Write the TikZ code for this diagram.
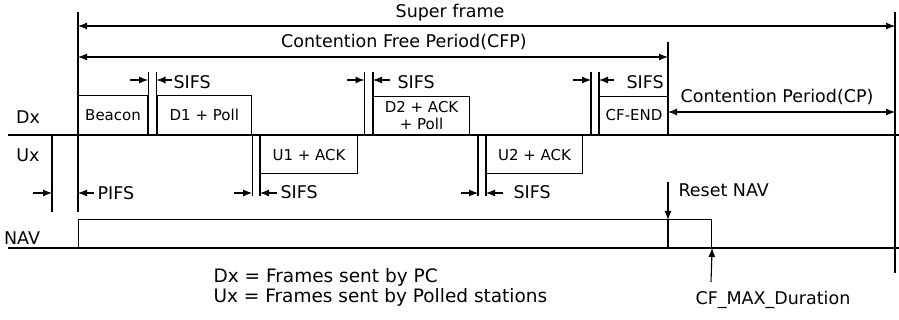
\documentclass[tikz,border=0pt]{standalone}
\usepackage{fontspec}
\setmainfont{DejaVu Sans}
\usepackage{tikz}
\usetikzlibrary{arrows.meta}
\tikzstyle{frame} = [rectangle, sharp corners, draw, inner sep=0pt,
                     anchor=south west, text centered,
                     font=\fontsize{15}{17}\selectfont]
\tikzstyle{lbl} = [inner sep=0pt, font=\fontsize{17.5}{21}\selectfont]
\tikzstyle{legend} = [inner sep=0pt, anchor=west, font=\fontsize{18.5}{22}\selectfont]
\tikzstyle{gaparrow} = [-{Latex[length=9pt,width=7pt]}]
\tikzstyle{spanarrow} = [{Latex[length=9pt,width=7pt]}-{Latex[length=9pt,width=7pt]}]

\begin{document}
\begin{tikzpicture}[x=1pt, y=-1pt, line width=1.1pt]
\useasboundingbox (0,0) rectangle (899,320);

% Time lines
\draw (8,135) -- (899,135);
\draw (8,248) -- (899,248);
\node[lbl] (dx) at (28,117) {Dx};
\node[lbl] (ux) at (28,155) {Ux};
\node[lbl] (navlbl) at (22,238) {NAV};

% Super frame / CFP / CP
\draw (78,12) -- (78,212);
\draw (895,12) -- (895,273);
\draw (668,42) -- (668,135);
\draw[spanarrow] (78,26) -- (895,26);
\node[lbl] (super) at (450,13) {Super frame};
\draw[spanarrow] (78,57) -- (668,57);
\node[lbl] (cfp) at (404,42) {Contention Free Period(CFP)};
\draw[spanarrow] (668,112) -- (895,112);
\node[lbl] (cp) at (777,97) {Contention Period(CP)};

% PIFS
\draw (52,135) -- (52,212);
\draw[gaparrow] (33,193) -- (52,193);
\draw[gaparrow] (94,193) -- (78,193);
\node[lbl, anchor=west] (pifs) at (97,193) {PIFS};

% Beacon
\node[frame, minimum width=69, minimum height=39] (beacon) at (78,135) {Beacon};
\draw (beacon.south east) -- ++(0,-63);

% D1 + Poll
\node[frame, minimum width=94.5, minimum height=39] (d1) at (156.5,135) {D1 + Poll};
\draw (d1.south west) -- ++(0,-63);
\draw[gaparrow] (130,80) -- (beacon.south east |- 0,80);
\draw[gaparrow] (172,80) -- (d1.south west |- 0,80);
\node[lbl, anchor=west] (sifs1) at (173,82) {SIFS};

% U1 + ACK
\node[frame, anchor=north west, minimum width=97, minimum height=38] (u1) at (260,135) {U1 + ACK};
\draw (d1.south east) -- ++(0,61);
\draw (u1.north west) -- ++(0,61);
\draw[gaparrow] (234,193) -- (d1.south east |- 0,193);
\draw[gaparrow] (277,193) -- (u1.north west |- 0,193);
\node[lbl, anchor=west] (sifs2) at (280,192) {SIFS};

% D2 + ACK + Poll
\coordinate (s3) at (364.5,135);
\node[frame, minimum width=96, minimum height=38, align=center] (d2) at (373,135) {D2 + ACK\\+ Poll};
\draw (s3) -- ++(0,-63);
\draw (d2.south west) -- ++(0,-63);
\draw[gaparrow] (347,80) -- (s3 |- 0,80);
\draw[gaparrow] (390,80) -- (d2.south west |- 0,80);
\node[lbl, anchor=west] (sifs3) at (397,82) {SIFS};

% U2 + ACK
\coordinate (s4) at (478,135);
\node[frame, anchor=north west, minimum width=96, minimum height=38] (u2) at (486,135) {U2 + ACK};
\draw (s4) -- ++(0,61);
\draw (u2.north west) -- ++(0,61);
\draw[gaparrow] (461,193) -- (s4 |- 0,193);
\draw[gaparrow] (503,193) -- (u2.north west |- 0,193);
\node[lbl, anchor=west] (sifs4) at (513,192) {SIFS};

% CF-END
\coordinate (s5) at (591,135);
\node[frame, minimum width=69, minimum height=38] (cfend) at (599,135) {CF-END};
\draw (s5) -- ++(0,-63);
\draw (cfend.south west) -- ++(0,-63);
\draw[gaparrow] (573,80) -- (s5 |- 0,80);
\draw[gaparrow] (614,80) -- (cfend.south west |- 0,80);
\node[lbl, anchor=west] (sifs5) at (626,82) {SIFS};

% NAV
\node[frame, minimum width=633, minimum height=28] (nav) at (78,248) {};
\coordinate (reset) at (668,220);
\draw (reset) -- (reset |- nav.south);
\draw[gaparrow] (668,182) -- (reset);
\node[lbl, anchor=west] (resetlbl) at (678,190) {Reset NAV};
\draw[gaparrow] (711,282) -- (nav.south east);
\node[lbl, anchor=west] (cfmax) at (695,300) {CF\_MAX\_Duration};

% Legend
\node[legend] (leg1) at (213,277) {Dx = Frames sent by PC};
\node[legend] (leg2) at (213,297) {Ux = Frames sent by Polled stations};
\end{tikzpicture}
\end{document}
